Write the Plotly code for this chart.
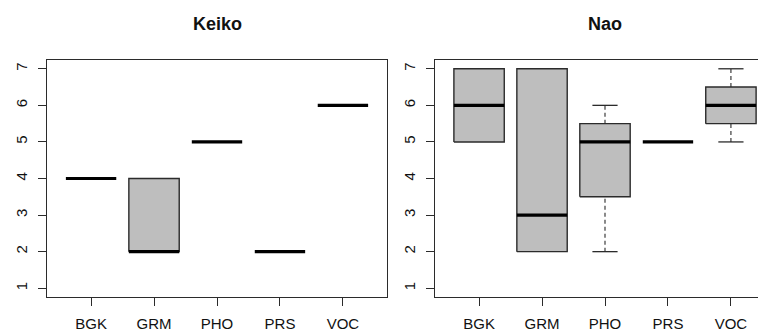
import plotly.graph_objects as go

categories = ["BGK", "GRM", "PHO", "PRS", "VOC"]

keiko_min = [4, 2, 5, 2, 6]
keiko_q1 = [4, 2, 5, 2, 6]
keiko_med = [4, 2, 5, 2, 6]
keiko_q3 = [4, 4, 5, 2, 6]
keiko_max = [4, 4, 5, 2, 6]

nao_min = [5, 2, 2, 5, 5]
nao_q1 = [5, 2, 3.5, 5, 5.5]
nao_med = [6, 3, 5, 5, 6]
nao_q3 = [7, 7, 5.5, 5, 6.5]
nao_max = [7, 7, 6, 5, 7]

y_ticks = [1, 2, 3, 4, 5, 6, 7]
panel_titles = ["Keiko", "Nao"]

FONT = "Liberation Sans, Arial, sans-serif"
BOX_FILL = "#BEBEBE"
EDGE = "#2b2b2b"
HALF = 0.4
CAP = 0.2

fig = go.Figure()


def add_panel(xa, ya, mins, q1s, meds, q3s, maxs):
    for i, (lo, a, m, b, hi) in enumerate(zip(mins, q1s, meds, q3s, maxs), start=1):
        common = dict(xaxis=xa, yaxis=ya, mode="lines", showlegend=False, hoverinfo="skip")
        # whiskers
        if hi > b:
            fig.add_trace(go.Scatter(x=[i, i], y=[b, hi], line=dict(color=EDGE, width=1.1, dash="4px,3px"), **common))
            fig.add_trace(go.Scatter(x=[i - CAP, i + CAP], y=[hi, hi], line=dict(color=EDGE, width=1.3), **common))
        if lo < a:
            fig.add_trace(go.Scatter(x=[i, i], y=[lo, a], line=dict(color=EDGE, width=1.1, dash="4px,3px"), **common))
            fig.add_trace(go.Scatter(x=[i - CAP, i + CAP], y=[lo, lo], line=dict(color=EDGE, width=1.3), **common))
        # box
        if b > a:
            fig.add_trace(go.Scatter(
                x=[i - HALF, i + HALF, i + HALF, i - HALF, i - HALF],
                y=[a, a, b, b, a], fill="toself", fillcolor=BOX_FILL,
                line=dict(color=EDGE, width=1.4), **common))
        # median
        fig.add_trace(go.Scatter(x=[i - HALF, i + HALF], y=[m, m], line=dict(color="black", width=3.2), **common))


add_panel("x", "y", keiko_min, keiko_q1, keiko_med, keiko_q3, keiko_max)
add_panel("x2", "y2", nao_min, nao_q1, nao_med, nao_q3, nao_max)

# page body has an 8px margin; figure is sized so it ends at the window edge
W, H = 758, 323
ML, MR, MT, MB = 39, 0, 52, 34
PW = W - ML - MR
PH = H - MT - MB
UNIT = 340 / 5.4

xpos = list(range(1, len(categories) + 1))
xaxis_common = dict(
    tickmode="array", tickvals=xpos, ticktext=categories, automargin=False,
    showgrid=False, zeroline=False, showline=True, linecolor=EDGE, linewidth=1.2,
    ticks="outside", ticklen=8, tickcolor=EDGE, tickwidth=1.2,
    tickfont=dict(family=FONT, size=15, color="#111"), ticklabelstandoff=5,
)
yaxis_common = dict(
    tickmode="array", tickvals=y_ticks, ticktext=[str(v) for v in y_ticks], automargin=False,
    range=[0.76, 7.24], showgrid=False, zeroline=False, showline=True, linecolor=EDGE, linewidth=1.2,
    ticks="outside", ticklen=8, tickcolor=EDGE, tickwidth=1.2, tickangle=-90,
    tickfont=dict(family=FONT, size=15, color="#111"), ticklabelstandoff=5,
)

d1 = [0, 340 / PW]
d2 = [388 / PW, 1]

fig.update_layout(
    width=W, height=H,
    margin=dict(l=ML, r=MR, t=MT, b=MB, pad=0, autoexpand=False),
    paper_bgcolor="white", plot_bgcolor="white",
    xaxis=dict(domain=d1, range=[0.3, 5.7], anchor="y", mirror=True, **xaxis_common),
    yaxis=dict(domain=[0, 1], anchor="x", mirror=True, **yaxis_common),
    xaxis2=dict(domain=d2, range=[0.3, 0.3 + (PW * (d2[1] - d2[0])) / UNIT], anchor="y2", mirror=True, **xaxis_common),
    yaxis2=dict(domain=[0, 1], anchor="x2", mirror=False, **yaxis_common),
    annotations=[
        dict(text="<b>%s</b>" % panel_titles[0], xref="paper", yref="paper",
             x=(d1[0] + d1[1]) / 2, y=1 + (MT - 16) / PH, xanchor="center", yanchor="middle",
             showarrow=False, font=dict(family=FONT, size=18, color="#111")),
        dict(text="<b>%s</b>" % panel_titles[1], xref="paper", yref="paper",
             x=d2[0] + (340 / PW) / 2, y=1 + (MT - 16) / PH, xanchor="center", yanchor="middle",
             showarrow=False, font=dict(family=FONT, size=18, color="#111")),
    ],
)

fig.write_html("out.html")
